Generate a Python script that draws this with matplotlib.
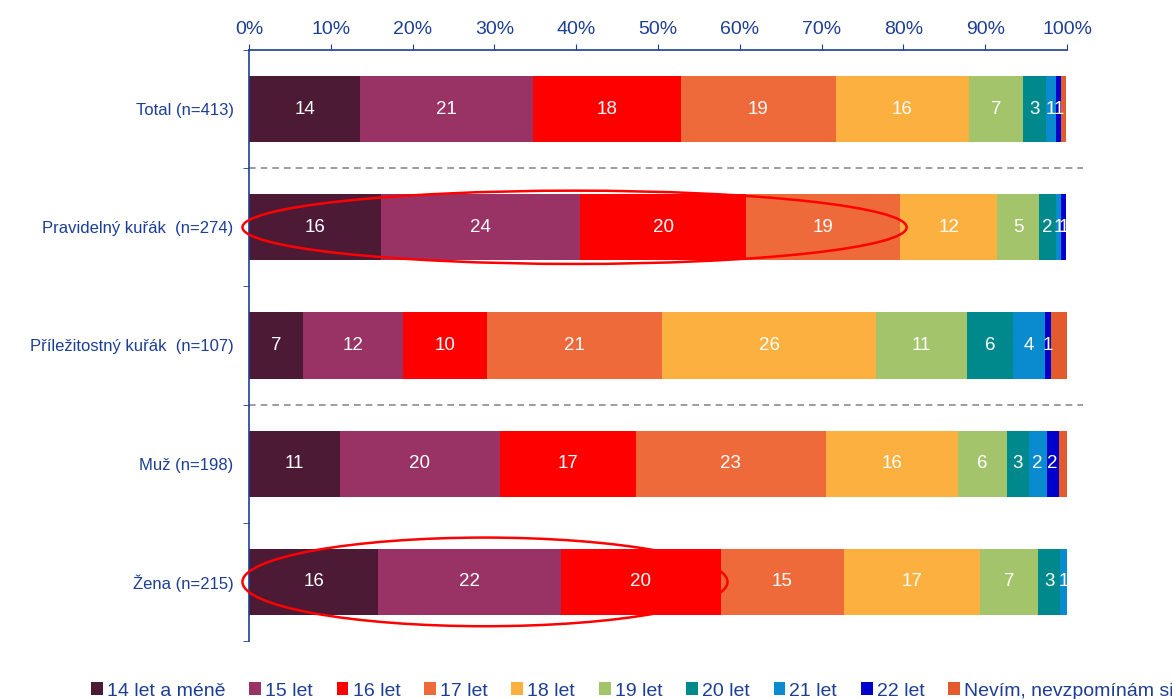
import matplotlib.pyplot as plt
import numpy as np
from matplotlib.patches import Ellipse

plt.rcParams['font.family'] = ['Liberation Sans', 'DejaVu Sans']

categories = ['Total (n=413)', 'Pravidelný kuřák  (n=274)', 'Příležitostný kuřák  (n=107)',
              'Muž (n=198)', 'Žena (n=215)']
series = ['14 let a méně', '15 let', '16 let', '17 let', '18 let', '19 let',
          '20 let', '21 let', '22 let', 'Nevím, nevzpomínám si']
colors = ['#4D1A35', '#993366', '#FF0000', '#EE6A3A', '#FBB040', '#A3C46B',
          '#00898C', '#0A8BCF', '#0000CC', '#E35B2C']

# values in %, rows = categories, columns = series
values = np.array([
    [13.6, 21.1, 18.1, 18.9, 16.3, 6.6, 2.8, 1.3, 0.6, 0.6],
    [16.1, 24.4, 20.3, 18.8, 11.9, 5.1, 2.0, 0.7, 0.6, 0.0],
    [6.6, 12.2, 10.3, 21.4, 26.2, 11.1, 5.6, 3.9, 0.7, 2.0],
    [11.1, 19.6, 16.6, 23.2, 16.2, 6.0, 2.6, 2.2, 1.5, 1.0],
    [15.8, 22.3, 19.6, 15.0, 16.7, 7.1, 2.7, 0.8, 0.0, 0.0],
])
labelled = [True] * 9 + [False]

# highlighted groups: (category index, number of leading segments)
highlights = [(1, 4), (4, 3)]
separators = [0.5, 2.5]

blue = '#1C3E94'

fig = plt.figure(figsize=(11.72, 6.99), dpi=100)
ax = fig.add_axes([249 / 1172, 1 - 641 / 699, 818 / 1172, 591 / 699])

y = np.arange(len(categories))
left = np.zeros(len(categories))
for j, name in enumerate(series):
    bars = ax.barh(y, values[:, j], left=left, height=0.56, color=colors[j],
                   label=name, edgecolor='none')
    if labelled[j]:
        for i, b in enumerate(bars):
            v = values[i, j]
            if v >= 0.5:
                ax.text(left[i] + v / 2, y[i], f'{v:.0f}', ha='center', va='center',
                        color='white', fontsize=13.5)
    left += values[:, j]

for s in separators:
    ax.plot([0, 102], [s, s], ls=(0, (4, 3)), color='#8C8C8C', lw=1.2, clip_on=False)

for i, k in highlights:
    x1 = values[i, :k].sum()
    ax.add_patch(Ellipse((x1 / 2, y[i]), x1 + 1.6, 0.62 if i == 1 else 0.75,
                         fill=False, ec='#FF0000', lw=1.8, clip_on=False, zorder=5))

ax.set_xlim(0, 100)
ax.set_ylim(len(categories) - 0.5, -0.5)
ax.xaxis.tick_top()
ax.set_xticks(np.arange(0, 101, 10))
ax.set_xticklabels([f'{t}%' for t in range(0, 101, 10)])
ax.set_yticks(y)
ax.set_yticklabels(categories)
ax.set_yticks(np.arange(-0.5, len(categories)), minor=True)
ax.tick_params(axis='y', which='major', length=0, pad=11, labelcolor=blue, labelsize=12)
ax.tick_params(axis='y', which='minor', length=4, color=blue, direction='out')
ax.tick_params(axis='x', length=4, color=blue, labelcolor=blue, labelsize=14, pad=5)
for side in ['right', 'bottom']:
    ax.spines[side].set_visible(False)
for side in ['top', 'left']:
    ax.spines[side].set_color(blue)
    ax.spines[side].set_linewidth(1.2)

leg = fig.legend(loc='center left', bbox_to_anchor=(91 / 1172, 1 - 691 / 699), ncol=10,
                 frameon=False, fontsize=14, handlelength=0.6, handleheight=0.6,
                 handletextpad=0.22, columnspacing=1.22, labelcolor=blue,
                 borderpad=0, borderaxespad=0)

fig.savefig('out.png', dpi=100)
